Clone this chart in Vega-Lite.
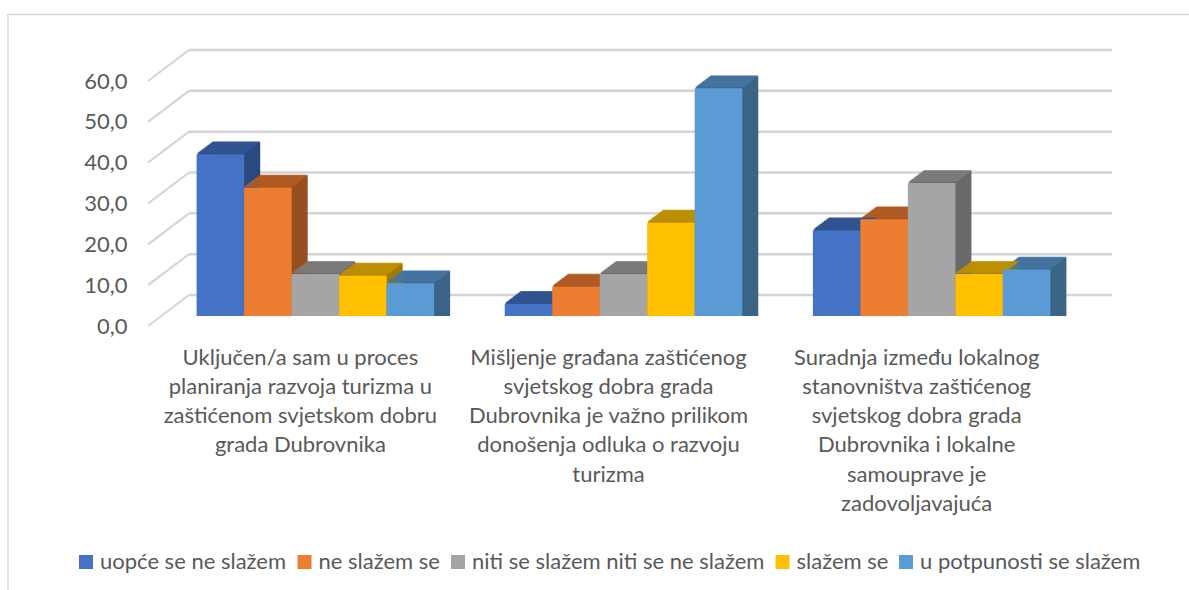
{"$schema":"https://vega.github.io/schema/vega-lite/v6.json","width":1189,"height":590,"autosize":"none","padding":0,"background":"white","config":{"view":{"stroke":null},"font":"Lato"},
"datasets":{"bars":[
{"pitanje":"Uključen/a sam u proces|planiranja razvoja turizma u|zaštićenom svjetskom dobru|grada Dubrovnika","serie":"uopće se ne slažem","v":39.6},
{"pitanje":"Uključen/a sam u proces|planiranja razvoja turizma u|zaštićenom svjetskom dobru|grada Dubrovnika","serie":"ne slažem se","v":31.5},
{"pitanje":"Uključen/a sam u proces|planiranja razvoja turizma u|zaštićenom svjetskom dobru|grada Dubrovnika","serie":"niti se slažem niti se ne slažem","v":10.3},
{"pitanje":"Uključen/a sam u proces|planiranja razvoja turizma u|zaštićenom svjetskom dobru|grada Dubrovnika","serie":"slažem se","v":9.9},
{"pitanje":"Uključen/a sam u proces|planiranja razvoja turizma u|zaštićenom svjetskom dobru|grada Dubrovnika","serie":"u potpunosti se slažem","v":8.0},
{"pitanje":"Mišljenje građana zaštićenog|svjetskog dobra grada|Dubrovnika je važno prilikom|donošenja odluka o razvoju|turizma","serie":"uopće se ne slažem","v":3.0},
{"pitanje":"Mišljenje građana zaštićenog|svjetskog dobra grada|Dubrovnika je važno prilikom|donošenja odluka o razvoju|turizma","serie":"ne slažem se","v":7.2},
{"pitanje":"Mišljenje građana zaštićenog|svjetskog dobra grada|Dubrovnika je važno prilikom|donošenja odluka o razvoju|turizma","serie":"niti se slažem niti se ne slažem","v":10.3},
{"pitanje":"Mišljenje građana zaštićenog|svjetskog dobra grada|Dubrovnika je važno prilikom|donošenja odluka o razvoju|turizma","serie":"slažem se","v":22.9},
{"pitanje":"Mišljenje građana zaštićenog|svjetskog dobra grada|Dubrovnika je važno prilikom|donošenja odluka o razvoju|turizma","serie":"u potpunosti se slažem","v":55.8},
{"pitanje":"Suradnja između lokalnog|stanovništva zaštićenog|svjetskog dobra grada|Dubrovnika i lokalne|samouprave je|zadovoljavajuća","serie":"uopće se ne slažem","v":21.0},
{"pitanje":"Suradnja između lokalnog|stanovništva zaštićenog|svjetskog dobra grada|Dubrovnika i lokalne|samouprave je|zadovoljavajuća","serie":"ne slažem se","v":23.7},
{"pitanje":"Suradnja između lokalnog|stanovništva zaštićenog|svjetskog dobra grada|Dubrovnika i lokalne|samouprave je|zadovoljavajuća","serie":"niti se slažem niti se ne slažem","v":32.6},
{"pitanje":"Suradnja između lokalnog|stanovništva zaštićenog|svjetskog dobra grada|Dubrovnika i lokalne|samouprave je|zadovoljavajuća","serie":"slažem se","v":10.3},
{"pitanje":"Suradnja između lokalnog|stanovništva zaštićenog|svjetskog dobra grada|Dubrovnika i lokalne|samouprave je|zadovoljavajuća","serie":"u potpunosti se slažem","v":11.4}
],"grid":[{"t":0},{"t":10},{"t":20},{"t":30},{"t":40},{"t":50},{"t":60}]},
"layer":[
{"data":{"values":[{"o":"frame"}]},"mark":{"type":"rule","color":"#d9d9d9","strokeWidth":1.5},"encoding":{"x":{"value":8},"x2":{"value":1189},"y":{"value":14.5}}},
{"data":{"values":[{"o":"frame"}]},"mark":{"type":"rule","color":"#d9d9d9","strokeWidth":1.5},"encoding":{"x":{"value":8},"y":{"value":14},"y2":{"value":590}}},
{"data":{"name":"grid"},"mark":{"type":"rule","color":"#d4d4d4","strokeWidth":2.5,"yOffset":-21},"encoding":{"x":{"value":189},"x2":{"value":1112},"y":{"field":"t","type":"quantitative","title":null,"scale":{"domain":[0,60],"range":[316,71]},"axis":{"orient":"left","offset":-127,"values":[0,10,20,30,40,50,60],"domain":false,"ticks":false,"grid":false,"labelPadding":0,"labelOffset":10,"labelFontSize":22,"labelColor":"#595959","labelExpr":"replace(format(datum.value,'.1f'),'.',',')"}}}},
{"data":{"name":"grid"},"mark":{"type":"rule","color":"#d4d4d4","strokeWidth":2,"yOffset":10,"y2Offset":-21},"encoding":{"x":{"value":148},"x2":{"value":189},"y":{"field":"t","type":"quantitative","title":null,"scale":{"domain":[0,60],"range":[316,71]},"axis":{"orient":"left","offset":-127,"values":[0,10,20,30,40,50,60],"domain":false,"ticks":false,"grid":false,"labelPadding":0,"labelOffset":10,"labelFontSize":22,"labelColor":"#595959","labelExpr":"replace(format(datum.value,'.1f'),'.',',')"}},"y2":{"field":"t"}}},
{"data":{"name":"bars"},
"transform":[{"calculate":"indexof(['uopće se ne slažem','ne slažem se','niti se slažem niti se ne slažem','slažem se','u potpunosti se slažem'],datum.serie)+0.5","as":"i"}],
"encoding":{
"x":{"field":"pitanje","type":"nominal","sort":null,"title":null,"scale":{"range":[161.3,1085.7],"paddingInner":0.2296,"paddingOuter":0.1148},"axis":{"orient":"bottom","offset":-274,"domain":false,"ticks":false,"labelAngle":0,"labelPadding":31,"labelOffset":-15,"labelFontSize":22,"labelColor":"#595959","labelLineHeight":29.3,"labelBaseline":"top","labelLimit":0,"labelOverlap":false,"labelExpr":"split(datum.label,'|')","grid":false}},
"xOffset":{"field":"dx","type":"quantitative","scale":null},
"y":{"field":"v","type":"quantitative","stack":null,"title":null,"scale":{"domain":[0,60],"range":[316,71]},"axis":{"orient":"left","offset":-127,"values":[0,10,20,30,40,50,60],"domain":false,"ticks":false,"grid":false,"labelPadding":0,"labelOffset":10,"labelFontSize":22,"labelColor":"#595959","labelExpr":"replace(format(datum.value,'.1f'),'.',',')"}},
"color":{"field":"shade","type":"nominal","scale":{"domain":["uopće se ne slažem","ne slažem se","niti se slažem niti se ne slažem","slažem se","u potpunosti se slažem","s uopće se ne slažem","s ne slažem se","s niti se slažem niti se ne slažem","s slažem se","s u potpunosti se slažem","t uopće se ne slažem","t ne slažem se","t niti se slažem niti se ne slažem","t slažem se","t u potpunosti se slažem"],"range":["#4472C4","#ED7D31","#A5A5A5","#FFC000","#5B9BD5","#2A4A7F","#964F1F","#696969","#A37A00","#3A6487","#335593","#B25D25","#7C7C7C","#BF9000","#4575A0"]},"legend":{"values":["uopće se ne slažem","ne slažem se","niti se slažem niti se ne slažem","slažem se","u potpunosti se slažem"],"title":null,"orient":"none","legendX":75,"legendY":551,"direction":"horizontal","columns":5,"gridAlign":"none","columnPadding":6.5,"symbolType":"square","symbolSize":196,"symbolStrokeWidth":0,"labelFontSize":22,"labelColor":"#595959","labelOffset":3,"labelLimit":0,"padding":0}}
},
"layer":[
{"transform":[{"calculate":"'s '+datum.serie","as":"shade"}],"layer":[
{"transform":[{"calculate":"datum.i*47.48+1","as":"dx"}],"mark":{"type":"bar","width":47.6,"yOffset":-0.75,"y2Offset":-0.75}},
{"transform":[{"calculate":"datum.i*47.48+2","as":"dx"}],"mark":{"type":"bar","width":47.6,"yOffset":-1.5,"y2Offset":-1.5}},
{"transform":[{"calculate":"datum.i*47.48+3","as":"dx"}],"mark":{"type":"bar","width":47.6,"yOffset":-2.25,"y2Offset":-2.25}},
{"transform":[{"calculate":"datum.i*47.48+4","as":"dx"}],"mark":{"type":"bar","width":47.6,"yOffset":-3,"y2Offset":-3}},
{"transform":[{"calculate":"datum.i*47.48+5","as":"dx"}],"mark":{"type":"bar","width":47.6,"yOffset":-3.75,"y2Offset":-3.75}},
{"transform":[{"calculate":"datum.i*47.48+6","as":"dx"}],"mark":{"type":"bar","width":47.6,"yOffset":-4.5,"y2Offset":-4.5}},
{"transform":[{"calculate":"datum.i*47.48+7","as":"dx"}],"mark":{"type":"bar","width":47.6,"yOffset":-5.25,"y2Offset":-5.25}},
{"transform":[{"calculate":"datum.i*47.48+8","as":"dx"}],"mark":{"type":"bar","width":47.6,"yOffset":-6,"y2Offset":-6}},
{"transform":[{"calculate":"datum.i*47.48+9","as":"dx"}],"mark":{"type":"bar","width":47.6,"yOffset":-6.75,"y2Offset":-6.75}},
{"transform":[{"calculate":"datum.i*47.48+10","as":"dx"}],"mark":{"type":"bar","width":47.6,"yOffset":-7.5,"y2Offset":-7.5}},
{"transform":[{"calculate":"datum.i*47.48+11","as":"dx"}],"mark":{"type":"bar","width":47.6,"yOffset":-8.25,"y2Offset":-8.25}},
{"transform":[{"calculate":"datum.i*47.48+12","as":"dx"}],"mark":{"type":"bar","width":47.6,"yOffset":-9,"y2Offset":-9}},
{"transform":[{"calculate":"datum.i*47.48+13","as":"dx"}],"mark":{"type":"bar","width":47.6,"yOffset":-9.75,"y2Offset":-9.75}},
{"transform":[{"calculate":"datum.i*47.48+14","as":"dx"}],"mark":{"type":"bar","width":47.6,"yOffset":-10.5,"y2Offset":-10.5}},
{"transform":[{"calculate":"datum.i*47.48+15","as":"dx"}],"mark":{"type":"bar","width":47.6,"yOffset":-11.25,"y2Offset":-11.25}},
{"transform":[{"calculate":"datum.i*47.48+16","as":"dx"}],"mark":{"type":"bar","width":47.6,"yOffset":-12,"y2Offset":-12}}
]},
{"transform":[{"calculate":"'t '+datum.serie","as":"shade"}],"encoding":{"y2":{"field":"v"}},"layer":[
{"transform":[{"calculate":"datum.i*47.48+1","as":"dx"}],"mark":{"type":"bar","width":47.6,"yOffset":-1.75,"y2Offset":-0.75}},
{"transform":[{"calculate":"datum.i*47.48+2","as":"dx"}],"mark":{"type":"bar","width":47.6,"yOffset":-2.5,"y2Offset":-1.5}},
{"transform":[{"calculate":"datum.i*47.48+3","as":"dx"}],"mark":{"type":"bar","width":47.6,"yOffset":-3.25,"y2Offset":-2.25}},
{"transform":[{"calculate":"datum.i*47.48+4","as":"dx"}],"mark":{"type":"bar","width":47.6,"yOffset":-4,"y2Offset":-3}},
{"transform":[{"calculate":"datum.i*47.48+5","as":"dx"}],"mark":{"type":"bar","width":47.6,"yOffset":-4.75,"y2Offset":-3.75}},
{"transform":[{"calculate":"datum.i*47.48+6","as":"dx"}],"mark":{"type":"bar","width":47.6,"yOffset":-5.5,"y2Offset":-4.5}},
{"transform":[{"calculate":"datum.i*47.48+7","as":"dx"}],"mark":{"type":"bar","width":47.6,"yOffset":-6.25,"y2Offset":-5.25}},
{"transform":[{"calculate":"datum.i*47.48+8","as":"dx"}],"mark":{"type":"bar","width":47.6,"yOffset":-7,"y2Offset":-6}},
{"transform":[{"calculate":"datum.i*47.48+9","as":"dx"}],"mark":{"type":"bar","width":47.6,"yOffset":-7.75,"y2Offset":-6.75}},
{"transform":[{"calculate":"datum.i*47.48+10","as":"dx"}],"mark":{"type":"bar","width":47.6,"yOffset":-8.5,"y2Offset":-7.5}},
{"transform":[{"calculate":"datum.i*47.48+11","as":"dx"}],"mark":{"type":"bar","width":47.6,"yOffset":-9.25,"y2Offset":-8.25}},
{"transform":[{"calculate":"datum.i*47.48+12","as":"dx"}],"mark":{"type":"bar","width":47.6,"yOffset":-10,"y2Offset":-9}},
{"transform":[{"calculate":"datum.i*47.48+13","as":"dx"}],"mark":{"type":"bar","width":47.6,"yOffset":-10.75,"y2Offset":-9.75}},
{"transform":[{"calculate":"datum.i*47.48+14","as":"dx"}],"mark":{"type":"bar","width":47.6,"yOffset":-11.5,"y2Offset":-10.5}},
{"transform":[{"calculate":"datum.i*47.48+15","as":"dx"}],"mark":{"type":"bar","width":47.6,"yOffset":-12.25,"y2Offset":-11.25}},
{"transform":[{"calculate":"datum.i*47.48+16","as":"dx"}],"mark":{"type":"bar","width":47.6,"yOffset":-12.75,"y2Offset":-12}}
]},
{"transform":[{"calculate":"datum.serie","as":"shade"},{"calculate":"datum.i*47.48","as":"dx"}],"mark":{"type":"bar","width":47.6}}
]}
]}
